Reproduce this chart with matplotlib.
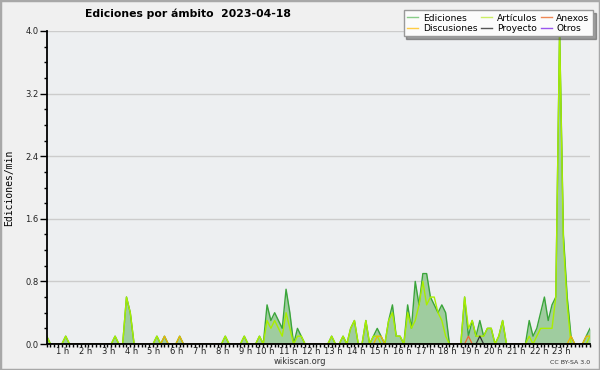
import numpy as np
import matplotlib
matplotlib.use("Agg")
import matplotlib.pyplot as plt
from matplotlib.lines import Line2D
from matplotlib.patches import Rectangle
from matplotlib.ticker import MultipleLocator

# edits per minute, one value per 10-minute bin (6 per hour, 24 hours)
ediciones = [
    0.1, 0, 0, 0, 0, 0.1,       0, 0, 0, 0, 0, 0,
    0, 0, 0, 0, 0, 0,           0.1, 0, 0, 0.6, 0.4, 0,
    0, 0, 0, 0, 0, 0.1,         0, 0.1, 0, 0, 0, 0.1,
    0, 0, 0, 0, 0, 0,           0, 0, 0, 0, 0, 0.1,
    0, 0, 0, 0, 0.1, 0,         0, 0, 0.1, 0, 0.5, 0.3,
    0.4, 0.3, 0.2, 0.7, 0.4, 0, 0.2, 0.1, 0, 0, 0, 0,
    0, 0, 0, 0.1, 0, 0,         0.1, 0, 0.2, 0.3, 0, 0,
    0.3, 0, 0.1, 0.2, 0.1, 0,   0.3, 0.5, 0.1, 0.1, 0, 0.5,
    0.2, 0.8, 0.5, 0.9, 0.9, 0.6, 0.5, 0.4, 0.5, 0.4, 0, 0,
    0, 0, 0.6, 0.1, 0.3, 0.1,   0.3, 0.1, 0.2, 0.2, 0, 0.1,
    0.3, 0, 0, 0, 0, 0,         0, 0.3, 0.1, 0.2, 0.4, 0.6,
    0.3, 0.5, 0.6, 4.0, 1.4, 0.6, 0.1, 0, 0, 0, 0.1, 0.2,
]
articulos = [
    0.1, 0, 0, 0, 0, 0.1,       0, 0, 0, 0, 0, 0,
    0, 0, 0, 0, 0, 0,           0.1, 0, 0, 0.6, 0.4, 0,
    0, 0, 0, 0, 0, 0.1,         0, 0, 0, 0, 0, 0,
    0, 0, 0, 0, 0, 0,           0, 0, 0, 0, 0, 0.1,
    0, 0, 0, 0, 0.1, 0,         0, 0, 0.1, 0, 0.3, 0.2,
    0.3, 0.2, 0.1, 0.4, 0.2, 0, 0.1, 0.1, 0, 0, 0, 0,
    0, 0, 0, 0.1, 0, 0,         0.1, 0, 0.2, 0.3, 0, 0,
    0.3, 0, 0.1, 0.1, 0, 0,     0.3, 0.4, 0.1, 0.1, 0, 0.4,
    0.2, 0.3, 0.5, 0.8, 0.5, 0.6, 0.6, 0.4, 0.3, 0.1, 0, 0,
    0, 0, 0.6, 0.2, 0.3, 0.1,   0.1, 0.1, 0.2, 0.2, 0, 0.1,
    0.3, 0, 0, 0, 0, 0,         0, 0.1, 0, 0.1, 0.2, 0.2,
    0.2, 0.2, 0.6, 4.0, 1.3, 0.5, 0, 0, 0, 0, 0, 0.1,
]
# sparse series: bin index -> value
discusiones_bins = [31, 35, 87, 88, 138, 142, 143]
discusiones_vals = [0.1, 0.1, 0.1, 0.1, 0.1, 0.1, 0.1]
anexos_bins = [111]
anexos_vals = [0.1]
proyecto_bins = [114]
proyecto_vals = [0.1]
otros_bins = []
otros_vals = []

hour_labels = ["%d h" % h for h in range(1, 24)]
yticks = [0.0, 0.8, 1.6, 2.4, 3.2, 4.0]

n = len(ediciones)
x = np.arange(n)


def sparse(bins, vals):
    s = np.zeros(n)
    s[bins] = vals
    return s


discusiones = sparse(discusiones_bins, discusiones_vals)
anexos = sparse(anexos_bins, anexos_vals)
proyecto = sparse(proyecto_bins, proyecto_vals)
otros = sparse(otros_bins, otros_vals)

fig = plt.figure(figsize=(6, 3.7), dpi=100, facecolor="#f0f0f0")
ax = fig.add_axes([46.7 / 600, 26 / 370, (590 - 46.7) / 600, (344 - 31) / 370])
ax.set_facecolor("#edeff1")

ax.fill_between(x, ediciones, color="#9fcc9f", lw=0, zorder=2)
ax.plot(x, ediciones, color="#3aa53a", lw=1.0, zorder=3)
ax.plot(x, articulos, color="#aaee00", lw=1.0, zorder=4)
ax.plot(x, anexos, color="#ee6633", lw=0.9, zorder=5)
ax.plot(x, discusiones, color="#f0b800", lw=0.9, zorder=5)
ax.plot(x, proyecto, color="#333333", lw=0.9, zorder=5)
ax.plot(x, otros, color="#9933ee", lw=0.9, zorder=1)

ax.set_xlim(0, n - 1)
ax.set_ylim(0, 4.0)

# axes / ticks
for s in ["top", "right"]:
    ax.spines[s].set_visible(False)
for s in ["left", "bottom"]:
    ax.spines[s].set_linewidth(1.3)
    ax.spines[s].set_zorder(6)

ax.set_xticks([6 * h for h in range(1, 24)], hour_labels)
ax.xaxis.set_minor_locator(MultipleLocator(1))
for lab in ax.get_xticklabels():
    lab.set_ha("right")
ax.tick_params(axis="x", which="both", length=1.8, width=1, pad=0.5,
               labelsize=6, labelcolor="#222222")

ax.set_yticks(yticks, ["%.1f" % v for v in yticks])
ax.yaxis.set_minor_locator(MultipleLocator(0.2))
ax.tick_params(axis="y", which="major", length=5, width=1, pad=1,
               labelsize=6, labelcolor="#222222")
ax.tick_params(axis="y", which="minor", length=2.5, width=1)
ax.grid(axis="y", color="#cccccc", lw=1)
ax.set_axisbelow(True)

ax.set_ylabel("Ediciones/min", family="DejaVu Sans Mono", fontsize=7, labelpad=8)

# title and footer
fig.text(85 / 600, 1 - 14 / 370, "Ediciones por ámbito  2023-04-18",
         fontsize=7.8, fontweight="bold", va="center", ha="left")
fig.text(300 / 600, 1 - 362 / 370, "wikiscan.org", fontsize=6,
         color="#333333", ha="center", va="center")
fig.text(590 / 600, 1 - 362 / 370, "CC BY-SA 3.0", fontsize=4.5,
         color="#333333", ha="right", va="center")

# legend
handles = [
    Line2D([], [], color="#88cc88", lw=1),
    Line2D([], [], color="#ffcc44", lw=1),
    Line2D([], [], color="#ccee66", lw=1),
    Line2D([], [], color="#555555", lw=1),
    Line2D([], [], color="#ee8855", lw=1),
    Line2D([], [], color="#9955ee", lw=1),
]
labels = ["Ediciones", "Discusiones", "Artículos", "Proyecto", "Anexos", "Otros"]
leg = fig.legend(handles, labels, ncol=3, loc="upper right",
                 bbox_to_anchor=(593 / 600, 1 - 10 / 370), fontsize=6.6,
                 frameon=True, fancybox=False, shadow=True, framealpha=1,
                 handlelength=1.2, handletextpad=0.5, columnspacing=0.4,
                 labelspacing=0.12, borderpad=0.4, borderaxespad=0)
leg.get_frame().set_edgecolor("#999999")
leg.get_frame().set_facecolor("#fbfbfb")

fig.patches.append(Rectangle((0, 0), 1, 1, transform=fig.transFigure,
                             fill=False, ec="#a8a8a8", lw=2.5))

fig.savefig("out.png", dpi=100, facecolor=fig.get_facecolor())
